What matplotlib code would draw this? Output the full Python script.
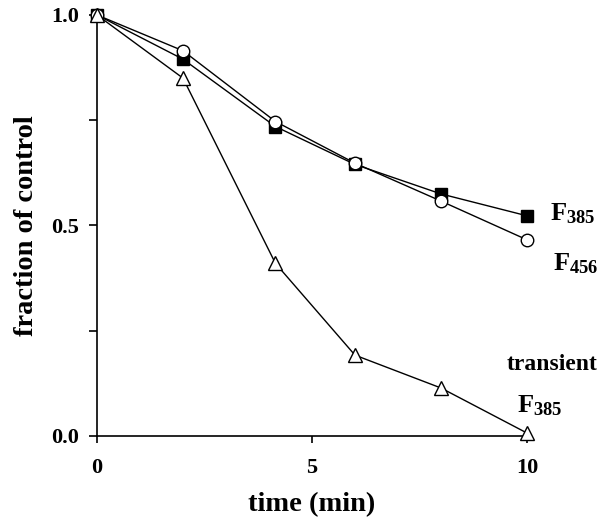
import matplotlib
matplotlib.use('Agg')
import matplotlib.pyplot as plt

plt.rcParams['font.family'] = ['Liberation Serif', 'DejaVu Serif']
plt.rcParams['font.weight'] = 'bold'
plt.rcParams['mathtext.fontset'] = 'custom'
plt.rcParams['mathtext.rm'] = 'Liberation Serif:bold'
plt.rcParams['mathtext.default'] = 'rm'

# time points (min)
time_min = [0, 2, 4.15, 6, 8, 10]

# fraction of control
f385 = [1.0, 0.895, 0.735, 0.645, 0.575, 0.523]
f456 = [1.0, 0.915, 0.747, 0.648, 0.558, 0.466]
transient_f385 = [1.0, 0.85, 0.41, 0.192, 0.114, 0.007]

x_ticks = [0, 5, 10]
y_ticks = [0.0, 0.25, 0.5, 0.75, 1.0]
y_tick_labels = ['0.0', '', '0.5', '', '1.0']

fig = plt.figure(figsize=(6.12, 5.17), dpi=100)
ax = fig.add_axes([0.1585, 0.1567, 0.7026, 0.8143])

ax.plot(time_min, f385, color='black', lw=1, marker='s', ms=8,
        mfc='black', mec='black', clip_on=False, zorder=3)
ax.plot(time_min, f456, color='black', lw=1, marker='o', ms=9,
        mfc='white', mec='black', mew=1, clip_on=False, zorder=4)
ax.plot(time_min, transient_f385, color='black', lw=1, marker='^', ms=9.5,
        mfc='white', mec='black', mew=1, clip_on=False, zorder=4)

ax.set_xlim(0, 10)
ax.set_ylim(0, 1)
ax.set_xticks(x_ticks)
ax.set_yticks(y_ticks)
ax.set_yticklabels(y_tick_labels)
ax.spines['top'].set_visible(False)
ax.spines['right'].set_visible(False)
ax.spines['left'].set_linewidth(1.2)
ax.spines['bottom'].set_linewidth(1.2)
ax.tick_params(axis='y', direction='out', length=6, width=1.2, pad=7, labelsize=16)
ax.tick_params(axis='x', direction='out', length=5, width=1.2, pad=11, labelsize=16)

ax.set_xlabel('time (min)', fontsize=20.5, fontweight='bold')
ax.set_ylabel('fraction of control', fontsize=20.5, fontweight='bold')
ax.xaxis.set_label_coords(0.5, -0.164)
ax.xaxis.label.set_va('center')
ax.yaxis.set_label_coords(-0.163, 0.5)
ax.yaxis.label.set_va('center')

ax.text(10.53, 0.527, r'F$_{385}$', fontsize=19, fontweight='bold',
        ha='left', va='center', clip_on=False)
ax.text(10.6, 0.409, r'F$_{456}$', fontsize=19, fontweight='bold',
        ha='left', va='center', clip_on=False)
ax.text(10.59, 0.169, 'transient', fontsize=17, fontweight='bold',
        ha='center', va='center', clip_on=False)
ax.text(9.77, 0.071, r'F$_{385}$', fontsize=19, fontweight='bold',
        ha='left', va='center', clip_on=False)

fig.savefig('out.png', dpi=100)
